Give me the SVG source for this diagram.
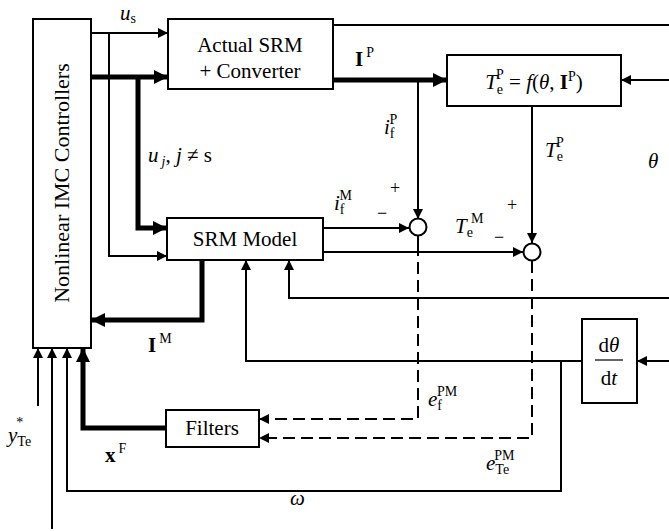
<svg xmlns="http://www.w3.org/2000/svg" width="669" height="531" viewBox="0 0 669 531" font-family="'Liberation Serif', 'DejaVu Serif', serif">
<style>
.box{fill:#fff;stroke:#000;stroke-width:2}
.t{font-family:'Liberation Serif','DejaVu Serif',serif;font-size:21px;fill:#000}
.i{font-style:italic}
.b{font-weight:bold}
.s{font-size:14px}
.pm{font-size:18px}
.w{fill:none;stroke:#000;stroke-width:2}
.k{fill:none;stroke:#000;stroke-width:5}
.d{fill:none;stroke:#000;stroke-width:2;stroke-dasharray:12 6}
.j{fill:#fff;stroke:#000;stroke-width:2}
</style>
<defs>
<marker id="a" markerUnits="userSpaceOnUse" markerWidth="10" markerHeight="10" viewBox="0 0 10 10" refX="10" refY="5" orient="auto">
<path d="M0,0 L10,5 L0,10 z" fill="#000"/>
</marker>
<marker id="A" markerUnits="userSpaceOnUse" markerWidth="14" markerHeight="14" viewBox="0 0 10 10" refX="10" refY="5" orient="auto">
<path d="M0,0 L10,5 L0,10 z" fill="#000"/>
</marker>
</defs>

<g id="connectors">
<path class="w" d="M91,33 H168" marker-end="url(#a)"/>
<path class="w" d="M109,33 V256 H167" marker-end="url(#a)"/>
<path class="k" d="M91,77 H168" marker-end="url(#A)"/>
<path class="k" d="M138,77 V228 H167" marker-end="url(#A)"/>
<path class="w" d="M333,25 H669"/>
<path class="k" d="M333,80 H447" marker-end="url(#A)"/>
<path class="w" d="M418,80 V219" marker-end="url(#a)"/>
<path class="w" d="M532,106 V243" marker-end="url(#a)"/>
<path class="w" d="M669,80 H621" marker-end="url(#a)"/>
<path class="w" d="M323,228 H409" marker-end="url(#a)"/>
<path class="w" d="M323,252 H523" marker-end="url(#a)"/>
<path class="w" d="M418,236 V256"/>
<path class="d" d="M418,262 V419 H259" marker-end="url(#a)"/>
<path class="d" d="M532,261 V438 H259" marker-end="url(#a)"/>
<path class="k" d="M202,260 V320 H91" marker-end="url(#A)"/>
<path class="w" d="M669,298 H289 V260" marker-end="url(#a)"/>
<path class="w" d="M582,361 H246 V260" marker-end="url(#a)"/>
<path class="w" d="M561,361 V491 H67 V348" marker-end="url(#a)"/>
<path class="w" d="M669,361 H637" marker-end="url(#a)"/>
<path class="w" d="M38,406 V348" marker-end="url(#a)"/>
<path class="w" d="M52,529 V348" marker-end="url(#a)"/>
<path class="k" d="M166,428 H83 V348" marker-end="url(#A)"/>
</g>

<g id="controller">
<rect class="box" x="33" y="19" width="58" height="329"/>
<text class="t" transform="translate(69,183) rotate(-90)" text-anchor="middle" style="font-size:22px">Nonlinear IMC Controllers</text>
</g>

<g id="actual-srm">
<rect class="box" x="168" y="19" width="165" height="70"/>
<text class="t" x="250" y="52" text-anchor="middle">Actual SRM</text>
<text class="t" x="250" y="78" text-anchor="middle">+ Converter</text>
</g>

<g id="srm-model">
<rect class="box" x="167" y="218" width="156" height="42"/>
<text class="t" x="245" y="246" text-anchor="middle">SRM Model</text>
</g>

<g id="torque-fn">
<rect class="box" x="447" y="55" width="174" height="51"/>
<text class="t" x="534" y="89" text-anchor="middle"><tspan class="i">T</tspan><tspan class="s" dy="5">e</tspan><tspan class="s" dx="-7" dy="-15">P</tspan><tspan dy="10"> = </tspan><tspan class="i">f</tspan>(<tspan class="i">θ</tspan>, <tspan class="b">I</tspan><tspan class="s" dy="-8">P</tspan><tspan dy="8">)</tspan></text>
</g>

<g id="junction-if">
<circle class="j" cx="418" cy="227" r="8.5"/>
</g>

<g id="junction-te">
<circle class="j" cx="532" cy="252" r="8.5"/>
</g>

<g id="filters">
<rect class="box" x="166" y="410" width="93" height="37"/>
<text class="t" x="212" y="435" text-anchor="middle">Filters</text>
</g>

<g id="derivative">
<rect class="box" x="582" y="319" width="55" height="84"/>
<text class="t" x="609" y="352" text-anchor="middle">d<tspan class="i">θ</tspan></text>
<line x1="595" y1="360" x2="623" y2="360" stroke="#000" stroke-width="1.2"/>
<text class="t" x="609" y="385" text-anchor="middle">d<tspan class="i">t</tspan></text>
</g>

<g id="labels">
<text class="t" x="120" y="20"><tspan class="i">u</tspan><tspan class="s" dy="3">s</tspan></text>
<text class="t" x="148" y="162"><tspan class="i">u</tspan><tspan class="s i" dx="3" dy="4">j</tspan><tspan dy="-4">, </tspan><tspan class="i">j</tspan> ≠ s</text>
<text class="t" x="355" y="66"><tspan class="b">I</tspan><tspan class="s" dx="3" dy="-9">P</tspan></text>
<text class="t" x="384" y="134"><tspan class="i">i</tspan><tspan class="s" dy="4">f</tspan><tspan class="s" dx="-5" dy="-14">P</tspan></text>
<text class="t" x="545" y="157"><tspan class="i">T</tspan><tspan class="s" dy="4">e</tspan><tspan class="s" dx="-7" dy="-14">P</tspan></text>
<text class="t i" x="648" y="168">θ</text>
<text class="t" x="334" y="210"><tspan class="i">i</tspan><tspan class="s" dy="4">f</tspan><tspan class="s" dx="-5" dy="-14">M</tspan></text>
<text class="t pm" x="390" y="194">+</text>
<text class="t pm" x="377" y="219">−</text>
<text class="t" x="455" y="233"><tspan class="i">T</tspan><tspan class="s" dy="4">e</tspan><tspan class="s" dx="-2" dy="-14">M</tspan></text>
<text class="t pm" x="507" y="211">+</text>
<text class="t pm" x="494" y="243">−</text>
<text class="t" x="148" y="352"><tspan class="b">I</tspan><tspan class="s" dx="3" dy="-9">M</tspan></text>
<text class="t" x="428" y="406"><tspan class="i">e</tspan><tspan class="s" dy="4">f</tspan><tspan class="s" dx="-5" dy="-14">PM</tspan></text>
<text class="t" x="486" y="470"><tspan class="i">e</tspan><tspan class="s" dy="4">Te</tspan><tspan class="s" dx="-15" dy="-14">PM</tspan></text>
<text class="t" x="8" y="442"><tspan class="i">y</tspan><tspan class="s" dy="4">Te</tspan><tspan class="s" dx="-15" dy="-19">*</tspan></text>
<text class="t" x="105" y="462"><tspan class="b">x</tspan><tspan class="s" dx="3" dy="-9">F</tspan></text>
<text class="t i" x="290" y="505">ω</text>
</g>
</svg>
